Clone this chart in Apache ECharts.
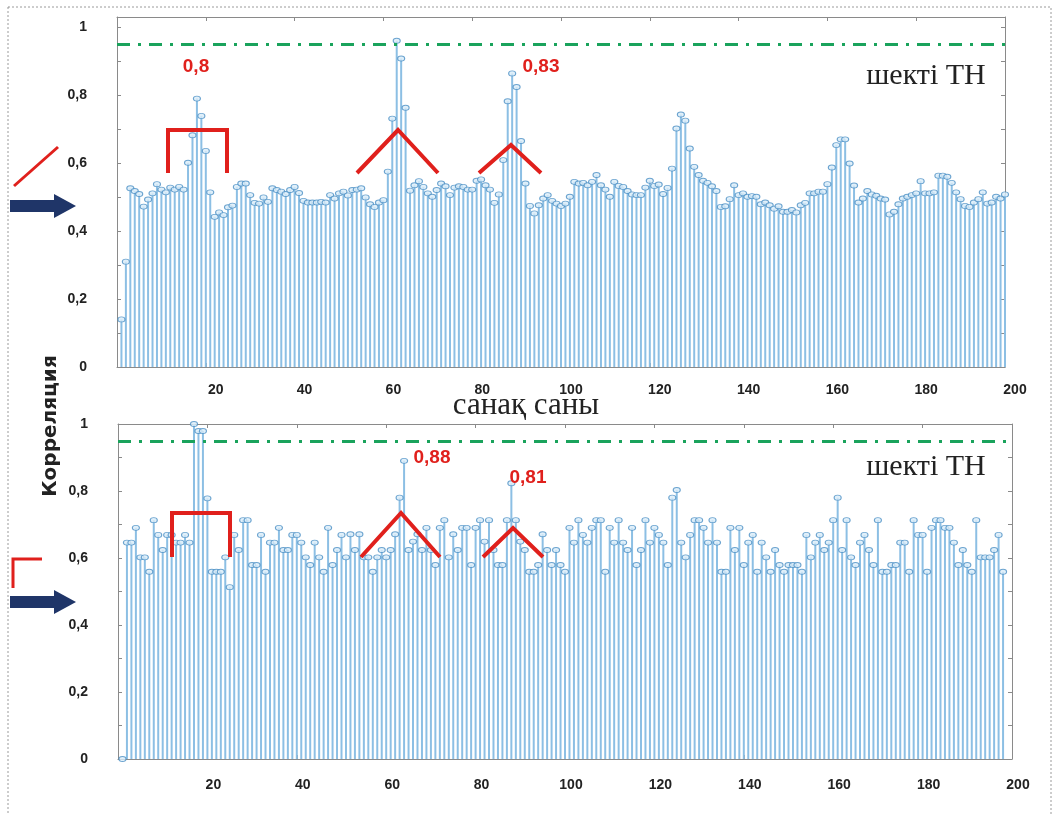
<!DOCTYPE html>
<html><head><meta charset="utf-8">
<script src="https://cdn.jsdelivr.net/npm/echarts@6/dist/echarts.min.js"></script>
<style>html,body{margin:0;padding:0;background:#fff}#c{width:1061px;height:814px}</style>
</head><body><div id="c"></div>
<script>
// ---- data ----
const topValues = [
0.14,0.31,0.526,0.518,0.509,0.472,0.493,0.511,0.538,0.522,
0.514,0.528,0.522,0.530,0.522,0.601,0.682,0.790,0.739,0.636,
0.514,0.442,0.455,0.447,0.470,0.475,0.530,0.540,0.540,0.506,
0.483,0.481,0.499,0.486,0.526,0.521,0.516,0.509,0.521,0.530,
0.512,0.489,0.484,0.484,0.484,0.486,0.484,0.506,0.496,0.511,
0.516,0.505,0.521,0.522,0.526,0.499,0.479,0.471,0.484,0.491,
0.575,0.731,0.960,0.908,0.763,0.519,0.535,0.547,0.530,0.511,
0.501,0.521,0.540,0.532,0.506,0.528,0.532,0.530,0.522,0.522,
0.548,0.552,0.535,0.522,0.483,0.508,0.609,0.782,0.864,0.824,
0.665,0.540,0.474,0.452,0.476,0.496,0.506,0.489,0.481,0.474,
0.481,0.501,0.545,0.540,0.542,0.535,0.545,0.565,0.535,0.522,
0.501,0.545,0.533,0.530,0.518,0.508,0.506,0.506,0.528,0.548,
0.533,0.537,0.509,0.527,0.584,0.702,0.743,0.725,0.643,0.589,
0.565,0.548,0.542,0.532,0.518,0.471,0.473,0.494,0.535,0.506,
0.511,0.501,0.503,0.501,0.479,0.484,0.476,0.466,0.473,0.457,
0.457,0.462,0.455,0.476,0.483,0.511,0.511,0.516,0.516,0.538,
0.587,0.653,0.670,0.670,0.599,0.534,0.484,0.496,0.518,0.508,
0.504,0.496,0.493,0.449,0.457,0.479,0.496,0.501,0.506,0.511,
0.547,0.511,0.511,0.514,0.563,0.563,0.560,0.542,0.514,0.494,
0.474,0.471,0.484,0.494,0.514,0.481,0.484,0.501,0.496,0.508];
const bottomValues = [
0.0,0.646,0.646,0.690,0.602,0.602,0.559,0.713,0.669,0.624,
0.669,0.669,0.646,0.646,0.669,0.646,1.0,0.979,0.979,0.778,
0.559,0.559,0.559,0.602,0.513,0.669,0.624,0.713,0.713,0.579,
0.579,0.669,0.559,0.646,0.646,0.690,0.624,0.624,0.669,0.669,
0.646,0.602,0.579,0.646,0.602,0.559,0.690,0.579,0.624,0.669,
0.602,0.671,0.624,0.671,0.602,0.602,0.559,0.602,0.624,0.602,
0.624,0.671,0.780,0.890,0.624,0.649,0.671,0.624,0.690,0.624,
0.579,0.690,0.713,0.602,0.671,0.624,0.690,0.690,0.579,0.690,
0.713,0.649,0.713,0.624,0.579,0.579,0.713,0.823,0.713,0.649,
0.624,0.559,0.559,0.579,0.671,0.624,0.579,0.624,0.579,0.559,
0.690,0.646,0.713,0.669,0.646,0.690,0.713,0.713,0.559,0.690,
0.646,0.713,0.646,0.624,0.690,0.579,0.624,0.713,0.646,0.690,
0.669,0.646,0.579,0.780,0.803,0.646,0.602,0.669,0.713,0.713,
0.690,0.646,0.713,0.646,0.559,0.559,0.690,0.624,0.690,0.579,
0.646,0.669,0.559,0.646,0.602,0.559,0.624,0.579,0.559,0.579,
0.579,0.579,0.559,0.669,0.602,0.646,0.669,0.624,0.646,0.713,
0.780,0.624,0.713,0.602,0.579,0.646,0.669,0.624,0.579,0.713,
0.559,0.559,0.579,0.579,0.646,0.646,0.559,0.713,0.669,0.669,
0.559,0.690,0.713,0.713,0.690,0.690,0.646,0.579,0.624,0.579,
0.559,0.713,0.602,0.602,0.602,0.624,0.669,0.559];
const threshold = 0.95;
const xTickLabels = [20,40,60,80,100,120,140,160,180,200];
const yTickLabels = ['0','0,2','0,4','0,6','0,8','1'];
const peakLabels = ['0,8','0,83','0,88','0,81'];
const limitLabel = 'шекті ТН';
const xTitle = 'санақ саны';
const yTitle = 'Корреляция';

// ---- build ----
const toPairs = arr => arr.map((v,i)=>[i+1,v]);
const topData = toPairs(topValues), botData = toPairs(bottomValues);
const AX = '#8a8a8a';
const yFmt = v => {
  const k = v*5; if (Math.abs(k-Math.round(k))>1e-6) return '';
  return yTickLabels[Math.round(k)] || '';
};
const xFmt = v => xTickLabels.indexOf(Math.round(v))>=0 ? String(Math.round(v)) : '';
function xAx(grid,pos,labels,pad,margin){
  return {type:'value',gridIndex:grid,position:pos,min:0,max:200,interval:20,
    axisLine:{show:true,onZero:false,lineStyle:{color:AX,width:1}},
    axisTick:{show:true,inside:true,length:4,lineStyle:{color:AX}},
    splitLine:{show:false},
    axisLabel:{show:labels,formatter:xFmt,margin:margin,padding:[0,0,0,pad],
      fontFamily:'Liberation Sans, Arial',fontWeight:'bold',fontSize:14,color:'#222'}};
}
function yAx(grid,pos,labels,max){
  return {type:'value',gridIndex:grid,position:pos,min:0,max:max,interval:0.1,
    axisLine:{show:true,onZero:false,lineStyle:{color:AX,width:1}},
    axisTick:{show:true,inside:true,length:4,lineStyle:{color:AX}},
    splitLine:{show:false},
    axisLabel:{show:labels,formatter:yFmt,margin:30,showMaxLabel:true,showMinLabel:true,
      fontFamily:'Liberation Sans, Arial',fontWeight:'bold',fontSize:14,color:'#222'}};
}
const stemStyle = {color:'#8cbfe4'};
const markStyle = {color:'#d9ecf9',borderColor:'#4a8fc4',borderWidth:1};
const thr = {silent:true,symbol:'none',label:{show:false},
  lineStyle:{color:'#1aa35c',width:3,type:[13,8,3,8]},data:[{yAxis:threshold}]};
const RED='#e0201c', NAVY='#1f3568';
const TXT = (x,y,text,font,fill,extra) => Object.assign({type:'text',x:x,y:y,z:10,
  style:{text:text,align:'center',verticalAlign:'middle',textAlign:'center',textVerticalAlign:'middle',font:font,fill:fill}},extra||{});
const chart = echarts.init(document.getElementById('c'));
chart.setOption({
  animation:false,
  grid:[{left:117,right:56,top:17,height:350},{left:118,right:49,top:424,height:335}],
  xAxis:[xAx(0,'bottom',true,20,16),xAx(0,'top',false,0,8),xAx(1,'bottom',true,12,19),xAx(1,'top',false,0,8)],
  yAxis:[yAx(0,'left',true,1.03),yAx(0,'right',false,1.03),yAx(1,'left',true,1.0),yAx(1,'right',false,1.0)],
  series:[
    {type:'bar',xAxisIndex:0,yAxisIndex:0,data:topData,barWidth:2,itemStyle:stemStyle,silent:true},
    {type:'scatter',xAxisIndex:0,yAxisIndex:0,data:topData,symbolSize:[7,5],itemStyle:markStyle,markLine:thr,z:3},
    {type:'bar',xAxisIndex:2,yAxisIndex:2,data:botData,barWidth:2,itemStyle:stemStyle,silent:true},
    {type:'scatter',xAxisIndex:2,yAxisIndex:2,data:botData,symbolSize:[7,5],itemStyle:markStyle,markLine:thr,z:3}
  ],
  graphic:[
    {type:'rect',shape:{x:8,y:7,width:1043,height:830},style:{fill:null,stroke:'#9a9a9a',lineWidth:1,lineDash:[2,2]},z:0},
    // left decorations
    {type:'line',shape:{x1:14,y1:186,x2:58,y2:147},style:{stroke:RED,lineWidth:3}},
    {type:'rect',shape:{x:10,y:200,width:46,height:12},style:{fill:NAVY}},
    {type:'polygon',shape:{points:[[54,194],[76,206],[54,218]]},style:{fill:NAVY}},
    {type:'polyline',shape:{points:[[13,588],[13,559],[42,559]]},style:{stroke:RED,lineWidth:3,fill:null}},
    {type:'rect',shape:{x:10,y:596,width:46,height:12},style:{fill:NAVY}},
    {type:'polygon',shape:{points:[[54,590],[76,602],[54,614]]},style:{fill:NAVY}},
    // red annotations
    {type:'polyline',shape:{points:[[168,173],[168,130],[227,130],[227,173]]},style:{stroke:RED,lineWidth:4,fill:null},z:10},
    {type:'polyline',shape:{points:[[357,173],[398,130],[438,173]]},style:{stroke:RED,lineWidth:4,fill:null},z:10},
    {type:'polyline',shape:{points:[[479,173],[511,145],[541,173]]},style:{stroke:RED,lineWidth:4,fill:null},z:10},
    {type:'polyline',shape:{points:[[172,557],[172,513],[230,513],[230,557]]},style:{stroke:RED,lineWidth:4,fill:null},z:10},
    {type:'polyline',shape:{points:[[361,557],[401,513],[440,557]]},style:{stroke:RED,lineWidth:4,fill:null},z:10},
    {type:'polyline',shape:{points:[[483,557],[513,528],[543,557]]},style:{stroke:RED,lineWidth:4,fill:null},z:10},
    TXT(196,67,peakLabels[0],'bold 19px "Liberation Sans", Arial',RED),
    TXT(541,67,peakLabels[1],'bold 19px "Liberation Sans", Arial',RED),
    TXT(432,458,peakLabels[2],'bold 19px "Liberation Sans", Arial',RED),
    TXT(528,478,peakLabels[3],'bold 19px "Liberation Sans", Arial',RED),
    // texts
    TXT(926,76,limitLabel,'30px "Liberation Serif", "Times New Roman", serif','#222'),
    TXT(926,467,limitLabel,'30px "Liberation Serif", "Times New Roman", serif','#222'),
    TXT(526,406,xTitle,'31px "Liberation Serif", "Times New Roman", serif','#222'),
    TXT(51,426,yTitle,'bold 20px "DejaVu Sans", Arial','#222',{rotation:Math.PI/2})
  ]
});
</script></body></html>
